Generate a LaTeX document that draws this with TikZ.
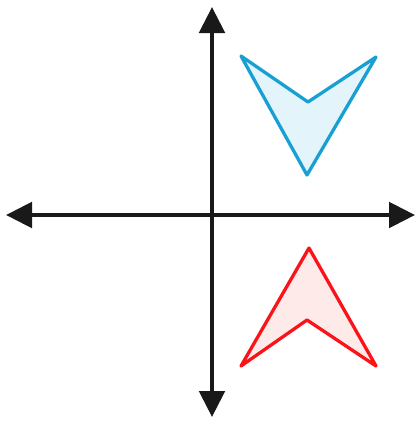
\documentclass[tikz,border=0pt]{standalone}
\usetikzlibrary{arrows.meta}

\begin{document}
\begin{tikzpicture}[x=0.03cm, y=-0.03cm, line cap=round, line join=round]
  
    \definecolor{myblue}{RGB}{25,160,210}
    \definecolor{myred}{RGB}{250,20,25}
    
    \tikzset{
      axis/.style={black!90, line width=3.6pt,
        {Triangle[length=0.78cm, width=0.76cm]}-{Triangle[length=0.78cm, width=0.76cm]}},
      blueshape/.style={draw=myblue, fill=myblue!12, line width=2.8pt},
      redshape/.style={draw=myred, fill=myred!9, line width=2.8pt}
    }
    
    \useasboundingbox (0,0) rectangle (419,423);
    
    \coordinate (left) at (6,215);
    \coordinate (right) at (415,215);
    \coordinate (top) at (212,7);
    \coordinate (bottom) at (212,417);
    
    \draw[axis] (left) -- (right);
    \draw[axis] (top) -- (bottom);
    
    % upper shape
    \draw[blueshape] (241,56) -- (308,102) -- (376,57) -- (307,175) -- cycle;
    
    % reflected shape
    \draw[redshape] (309,248) -- (376,366) -- (307,320) -- (241,366) -- cycle;
  
  \end{tikzpicture}
\end{document}
